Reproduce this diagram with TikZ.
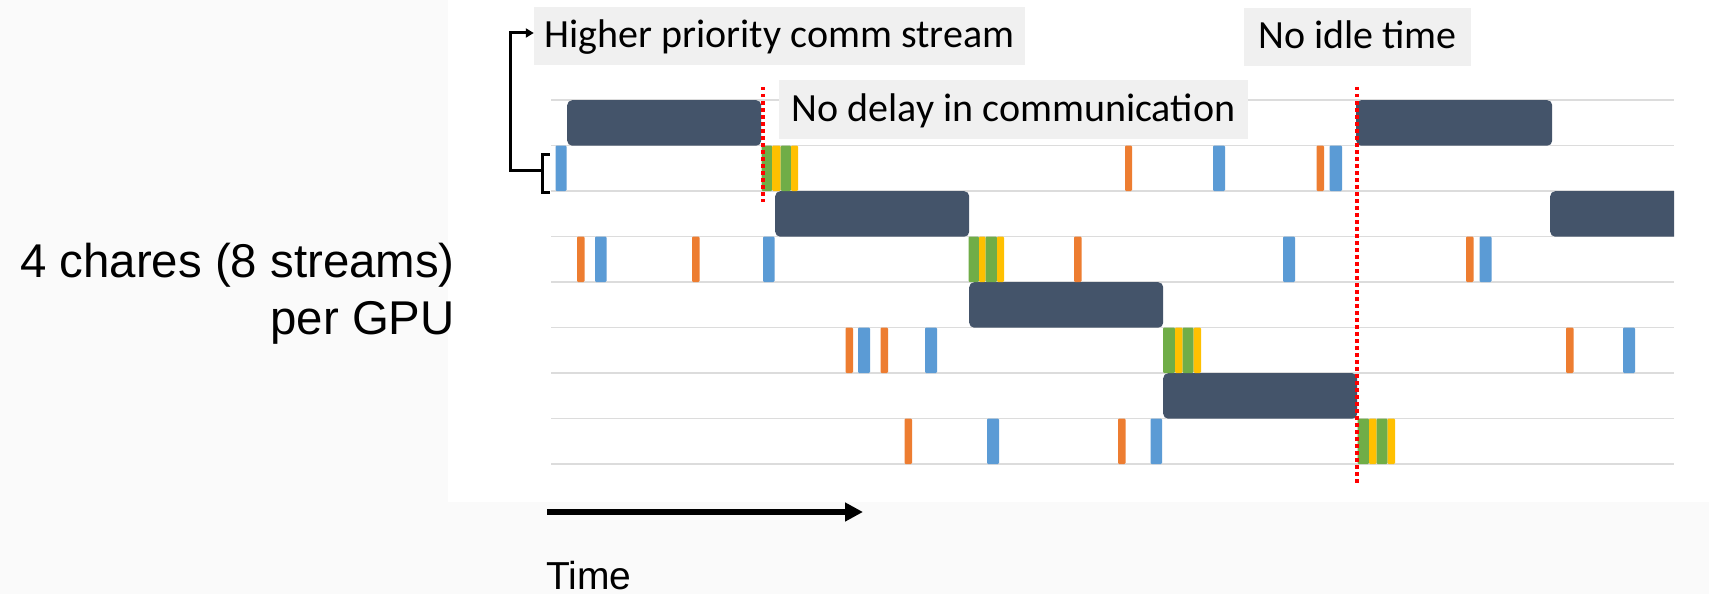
\documentclass[tikz,border=0pt]{standalone}
\usepackage{fontspec}
\setmainfont{Liberation Sans}
\newfontfamily\calib{Carlito}
\usetikzlibrary{arrows.meta}
\definecolor{darkbox}{HTML}{44546A}
\definecolor{cblue}{HTML}{5B9BD5}
\definecolor{corange}{HTML}{ED7D31}
\definecolor{cgreen}{HTML}{70AD47}
\definecolor{cyellow}{HTML}{FFC000}
\definecolor{rowline}{HTML}{DCDCDC}
\definecolor{labelbg}{HTML}{F0F0F0}
\definecolor{pagebg}{HTML}{FAFAFA}
\newcommand{\streambar}[4]{\fill[#1, rounded corners=1.2pt] (#2,#4) rectangle (#3,#4+45.5);}
\begin{document}
\begin{tikzpicture}[x=1pt,y=-1pt,
  compute/.style={fill=darkbox, rounded corners=5pt, inner sep=0pt, minimum height=45.5pt, anchor=north west},
  callout/.style={fill=labelbg, inner xsep=0pt, inner ysep=11pt, text height=30pt, text depth=6pt, font=\calib\fontsize{40}{48}\selectfont},
  bigtext/.style={font=\fontsize{47.4}{57}\selectfont, inner sep=0pt},
  redmark/.style={red, line width=3.2pt, dash pattern=on 3.5pt off 3.5pt},
  gridline/.style={rowline, line width=1.5pt},
  blackline/.style={line width=3pt, black},
]
\useasboundingbox (0,0) rectangle (1709,594);
\fill[pagebg] (0,0) rectangle (1709,594);
\fill[white] (448,0) rectangle (1709,502);

% grid lines
\foreach \yy in {100,145.5,191,236.5,282,327.5,373,418.5,464}
  \draw[gridline] (551,\yy) -- (1674,\yy);

% compute kernels
\node[compute, minimum width=194pt] (c1) at (567,100) {};
\node[compute, minimum width=194pt] (c2) at (775,191) {};
\node[compute, minimum width=194pt] (c3) at (969,282) {};
\node[compute, minimum width=194pt] (c4) at (1163,373) {};
\node[compute, minimum width=196pt] (c5) at (1356,100) {};
\begin{scope}
  \clip (0,0) rectangle (1674,594);
  \node[compute, minimum width=160pt] (c6) at (1550,191) {};
\end{scope}

% stream row A
\streambar{cblue}{555.5}{566.5}{145.5}
\streambar{cgreen}{761.5}{772.2}{145.5}
\streambar{cyellow}{772.2}{780.6}{145.5}
\streambar{cgreen}{780.6}{791}{145.5}
\streambar{cyellow}{791}{798}{145.5}
\streambar{corange}{1125}{1132}{145.5}
\streambar{cblue}{1213}{1225}{145.5}
\streambar{corange}{1316.5}{1324}{145.5}
\streambar{cblue}{1329.5}{1342}{145.5}
% stream row B
\streambar{corange}{577}{584.5}{236.5}
\streambar{cblue}{595}{606.5}{236.5}
\streambar{corange}{692}{699.5}{236.5}
\streambar{cblue}{763}{774.5}{236.5}
\streambar{cgreen}{968.5}{979}{236.5}
\streambar{cyellow}{979}{985.5}{236.5}
\streambar{cgreen}{985.5}{997}{236.5}
\streambar{cyellow}{997}{1004}{236.5}
\streambar{corange}{1074}{1081.5}{236.5}
\streambar{cblue}{1283}{1295}{236.5}
\streambar{corange}{1466}{1473.5}{236.5}
\streambar{cblue}{1479.5}{1491.5}{236.5}
% stream row C
\streambar{corange}{845.5}{853}{327.5}
\streambar{cblue}{858}{870}{327.5}
\streambar{corange}{880.5}{888}{327.5}
\streambar{cblue}{925}{937}{327.5}
\streambar{cgreen}{1163}{1175}{327.5}
\streambar{cyellow}{1175}{1182.5}{327.5}
\streambar{cgreen}{1182.5}{1193.6}{327.5}
\streambar{cyellow}{1193.6}{1201}{327.5}
\streambar{corange}{1566}{1573.5}{327.5}
\streambar{cblue}{1623}{1635}{327.5}
% stream row D
\streambar{corange}{904.5}{912}{418.5}
\streambar{cblue}{987}{999}{418.5}
\streambar{corange}{1118}{1125.5}{418.5}
\streambar{cblue}{1150.5}{1162}{418.5}
\streambar{cgreen}{1357.5}{1369}{418.5}
\streambar{cyellow}{1369}{1376.5}{418.5}
\streambar{cgreen}{1376.5}{1387.5}{418.5}
\streambar{cyellow}{1387.5}{1395}{418.5}

% callouts
\node[callout, minimum width=491pt] (hp) at (779.5,36) {Higher priority comm stream};
\node[callout, minimum width=469pt] (nd) at (1013.5,109.5) {No delay in communication};
\node[callout, minimum width=227pt] (ni) at (1357.5,37) {No idle time};

% red markers
\coordinate (r1a) at (763,87);
\coordinate (r1b) at (763,202);
\coordinate (r2a) at (1357,87);
\coordinate (r2b) at (1357,485);
\draw[redmark] (r1a) -- (r1b);
\draw[redmark] (r2a) -- (r2b);

% bracket and arrow to label
\coordinate (brk) at (542.5,170);
\draw[blackline] (549.5,154) -- (542.5,154) -- (542.5,192) -- (549.5,192);
\draw[blackline, -{Triangle[length=8pt,width=9pt]}] (brk) -- (510,170) |- ([yshift=3pt]hp.west);

% left text
\node[bigtext, anchor=base east] (chares) at (455,277) {4 chares (8 streams)};
\node[bigtext, anchor=base east] (pergpu) at (455,334) {per GPU};

% time arrow
\coordinate (t0) at (547,512);
\coordinate (t1) at (863,512);
\draw[line width=6pt, -{Triangle[length=18pt,width=18pt]}] (t0) -- (t1);
\node[font=\fontsize{39}{47}\selectfont, anchor=base west, inner sep=0pt] (time) at (546,589) {Time};
\end{tikzpicture}
\end{document}
